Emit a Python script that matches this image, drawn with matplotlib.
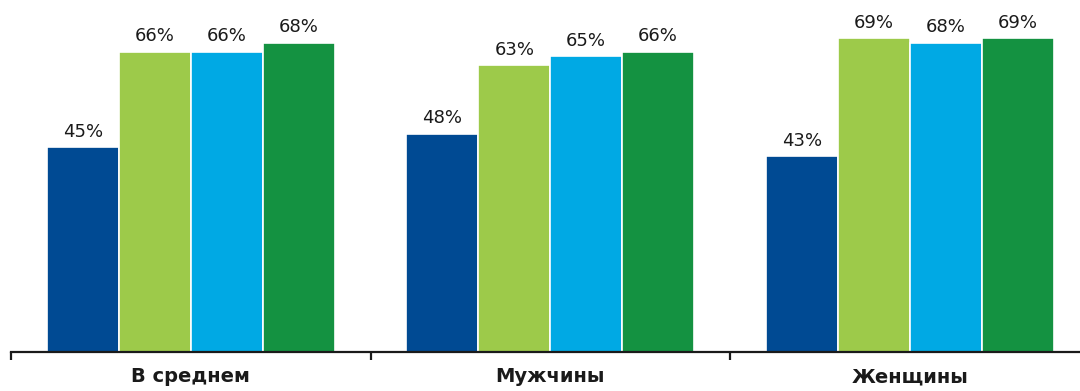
import matplotlib
matplotlib.use("Agg")
import matplotlib.pyplot as plt
import numpy as np

categories = ["В среднем", "Мужчины", "Женщины"]
series_values = [
    [45, 48, 43],
    [66, 63, 69],
    [66, 65, 68],
    [68, 66, 69],
]
series_colors = ["#004a93", "#9dca4a", "#00a9e4", "#149241"]

plt.rcParams["font.family"] = ["DejaVu Sans"]

W, H = 1080, 391
fig = plt.figure(figsize=(W / 100, H / 100), dpi=100)
left_px, right_px, base_px = 11, 1080, 352
ax = fig.add_axes([left_px / W, (H - base_px) / H, (right_px - left_px) / W, base_px / H])

group_step_px = 359.5
ax.set_xlim(-0.5, -0.5 + (right_px - left_px) / group_step_px)
ax.set_ylim(0, 352 / 4.55)

x = np.arange(len(categories))
bar_w = 0.2
n = len(series_values)
for i, (vals, col) in enumerate(zip(series_values, series_colors)):
    pos = x + (i - (n - 1) / 2) * bar_w
    bars = ax.bar(pos, vals, width=bar_w, color=col, edgecolor="white", linewidth=1.2)
    for b, v in zip(bars, vals):
        ax.annotate(f"{v}%", (b.get_x() + b.get_width() / 2, v), xytext=(0, 4.5),
                    textcoords="offset points", ha="center", va="bottom",
                    fontsize=13, color="#1a1a1a")

for s in ["top", "right", "left"]:
    ax.spines[s].set_visible(False)
ax.spines["bottom"].set_linewidth(1.6)
ax.spines["bottom"].set_color("#1a1a1a")
ax.set_yticks([])
ax.set_xticks(x)
ax.set_xticklabels(categories, fontsize=14, fontweight="bold", color="#1a1a1a")
ax.tick_params(axis="x", which="major", length=0, pad=11)
ax.set_xticks([-0.5, 0.5, 1.5], minor=True)
ax.tick_params(axis="x", which="minor", length=6, width=1.6, color="#1a1a1a", direction="out")

fig.savefig("out.png", dpi=100)
